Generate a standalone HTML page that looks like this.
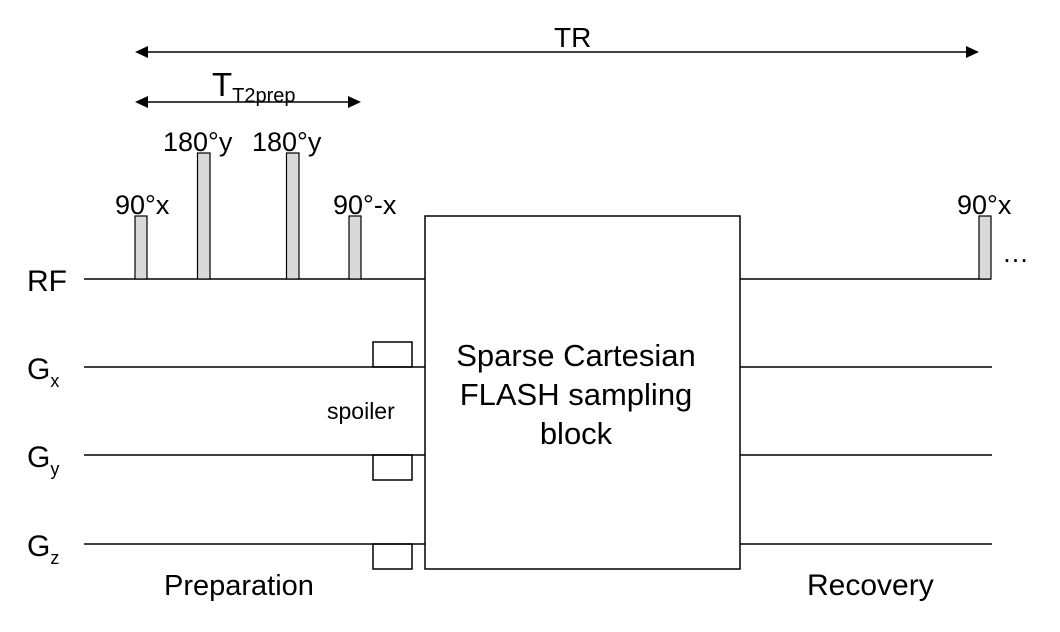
<!DOCTYPE html>
<html><head><meta charset="utf-8"><style>html,body{margin:0;padding:0;background:#fff}svg{display:block}</style></head>
<body>
<svg width="1060" height="632" viewBox="0 0 1060 632" xmlns="http://www.w3.org/2000/svg" font-family="Liberation Sans, Arial, sans-serif">
<rect width="1060" height="632" fill="#fff"/>
<g stroke="#000" stroke-width="1.5" fill="none">
<line x1="145" y1="52" x2="968" y2="52"/>
<line x1="145" y1="102" x2="350" y2="102"/>
<line x1="84" y1="279" x2="425" y2="279"/>
<line x1="740" y1="279" x2="991" y2="279"/>
<line x1="84" y1="367" x2="425" y2="367"/>
<line x1="740" y1="367" x2="992" y2="367"/>
<line x1="84" y1="455" x2="425" y2="455"/>
<line x1="740" y1="455" x2="992" y2="455"/>
<line x1="84" y1="544" x2="425" y2="544"/>
<line x1="740" y1="544" x2="992" y2="544"/>
<rect x="425" y="216" width="315" height="353"/>
<rect x="373" y="342" width="39" height="25"/>
<rect x="373" y="455" width="39" height="25"/>
<rect x="373" y="544" width="39" height="25"/>
</g>
<g fill="#000">
<polygon points="135,52 148,46 148,58"/>
<polygon points="979,52 966,46 966,58"/>
<polygon points="135,102 148,96 148,108"/>
<polygon points="361,102 348,96 348,108"/>
</g>
<g fill="#d9d9d9" stroke="#000" stroke-width="1.2">
<rect x="135" y="216" width="12" height="63"/>
<rect x="197.5" y="153" width="12.5" height="126"/>
<rect x="286.5" y="153" width="12.5" height="126"/>
<rect x="349" y="216" width="12" height="63"/>
<rect x="979" y="216" width="12" height="63"/>
</g>
<g fill="#000" font-size="27">
<text x="554" y="47" font-size="28">TR</text>
<text x="212" y="96" font-size="33">T<tspan font-size="20" dy="6">T2prep</tspan></text>
<text x="163" y="151">180°y</text>
<text x="252" y="151">180°y</text>
<text x="115" y="214">90°x</text>
<text x="333" y="214">90°-x</text>
<text x="957" y="214">90°x</text>
<text x="1002" y="262">…</text>
<text x="27" y="291" font-size="30">RF</text>
<text x="27" y="379" font-size="30">G<tspan font-size="18" dy="8">x</tspan></text>
<text x="27" y="467" font-size="30">G<tspan font-size="18" dy="8">y</tspan></text>
<text x="27" y="556" font-size="30">G<tspan font-size="18" dy="8">z</tspan></text>
<text x="327" y="419" font-size="23">spoiler</text>
<text x="164" y="595" font-size="29">Preparation</text>
<text x="807" y="595" font-size="30">Recovery</text>
<text x="576" y="366" font-size="31" text-anchor="middle">Sparse Cartesian</text>
<text x="576" y="405" font-size="31" text-anchor="middle">FLASH sampling</text>
<text x="576" y="444" font-size="31" text-anchor="middle">block</text>
</g>
</svg>
</body></html>
